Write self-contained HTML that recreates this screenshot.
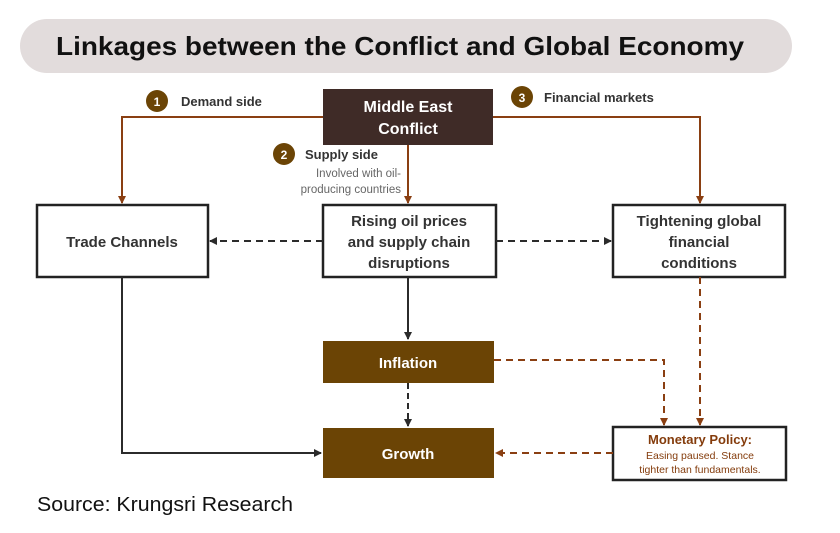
<!DOCTYPE html>
<html><head><style>
html,body{margin:0;padding:0;background:#fff;}
svg{display:block;font-family:"Liberation Sans",Arial,sans-serif;}
</style></head><body>
<svg width="840" height="533" viewBox="0 0 840 533" xmlns="http://www.w3.org/2000/svg">
<defs>
<marker id="ab" markerWidth="8" markerHeight="8" refX="7" refY="4" orient="auto" markerUnits="userSpaceOnUse"><path d="M0,0 L8,4 L0,8 z" fill="#8a3f12"/></marker>
<marker id="ak" markerWidth="8" markerHeight="8" refX="7" refY="4" orient="auto" markerUnits="userSpaceOnUse"><path d="M0,0 L8,4 L0,8 z" fill="#2b2b2b"/></marker>
</defs>
<rect x="20" y="19" width="772" height="54" rx="27" fill="#e2dcdc"/>
<text x="400" y="55" font-size="26" font-weight="bold" text-anchor="middle" textLength="688" lengthAdjust="spacingAndGlyphs" fill="#111">Linkages between the Conflict and Global Economy</text>

<g stroke="#8a3f12" stroke-width="2" fill="none">
<path d="M323,117 H122 V203" marker-end="url(#ab)"/>
<path d="M493,117 H700 V203" marker-end="url(#ab)"/>
<path d="M408,145 V203" marker-end="url(#ab)"/>
</g>
<rect x="323" y="89" width="170" height="56" fill="#3f2b27"/>
<text x="408" y="112" font-size="16" font-weight="bold" fill="#fff" text-anchor="middle">Middle East</text>
<text x="408" y="134" font-size="16" font-weight="bold" fill="#fff" text-anchor="middle">Conflict</text>

<circle cx="157" cy="101" r="11" fill="#6b4405"/><text x="157" y="106" font-size="12" font-weight="bold" fill="#fff" text-anchor="middle">1</text>
<text x="181" y="106" font-size="13" font-weight="bold" fill="#333">Demand side</text>
<circle cx="522" cy="97" r="11" fill="#6b4405"/><text x="522" y="102" font-size="12" font-weight="bold" fill="#fff" text-anchor="middle">3</text>
<text x="544" y="102" font-size="13" font-weight="bold" fill="#333">Financial markets</text>
<circle cx="284" cy="154" r="11" fill="#6b4405"/><text x="284" y="159" font-size="12" font-weight="bold" fill="#fff" text-anchor="middle">2</text>
<text x="305" y="159" font-size="13" font-weight="bold" fill="#333">Supply side</text>
<text x="401" y="177" font-size="11.5" fill="#666" text-anchor="end">Involved with oil-</text>
<text x="401" y="193" font-size="11.5" fill="#666" text-anchor="end">producing countries</text>

<g fill="#fff" stroke="#222" stroke-width="2.5">
<rect x="37" y="205" width="171" height="72"/>
<rect x="323" y="205" width="173" height="72"/>
<rect x="613" y="205" width="172" height="72"/>
<rect x="613" y="427" width="173" height="53"/>
</g>
<text x="122" y="247" font-size="15" font-weight="bold" fill="#333" text-anchor="middle">Trade Channels</text>
<text x="409" y="226" font-size="15" font-weight="bold" fill="#333" text-anchor="middle">Rising oil prices</text>
<text x="409" y="247" font-size="15" font-weight="bold" fill="#333" text-anchor="middle">and supply chain</text>
<text x="409" y="268" font-size="15" font-weight="bold" fill="#333" text-anchor="middle">disruptions</text>
<text x="699" y="226" font-size="15" font-weight="bold" fill="#333" text-anchor="middle">Tightening global</text>
<text x="699" y="247" font-size="15" font-weight="bold" fill="#333" text-anchor="middle">financial</text>
<text x="699" y="268" font-size="15" font-weight="bold" fill="#333" text-anchor="middle">conditions</text>
<text x="700" y="444" font-size="13" font-weight="bold" fill="#843c0c" text-anchor="middle">Monetary Policy:</text>
<text x="700" y="459" font-size="10.5" fill="#843c0c" text-anchor="middle">Easing paused. Stance</text>
<text x="700" y="473" font-size="10.5" fill="#843c0c" text-anchor="middle">tighter than fundamentals.</text>

<rect x="323" y="341" width="171" height="42" fill="#6b4405"/>
<text x="408" y="368" font-size="15" font-weight="bold" fill="#fff" text-anchor="middle">Inflation</text>
<rect x="323" y="428" width="171" height="50" fill="#6b4405"/>
<text x="408" y="459" font-size="15" font-weight="bold" fill="#fff" text-anchor="middle">Growth</text>

<g stroke="#2b2b2b" stroke-width="2" fill="none">
<path d="M323,241 H210" stroke-dasharray="7,5" marker-end="url(#ak)"/>
<path d="M496,241 H611" stroke-dasharray="7,5" marker-end="url(#ak)"/>
<path d="M408,383 V426" stroke-dasharray="6,4" marker-end="url(#ak)"/>
<path d="M408,277 V339" marker-end="url(#ak)"/>
<path d="M122,277 V453 H321" marker-end="url(#ak)"/>
</g>
<g stroke="#8a3f12" stroke-width="2" fill="none" stroke-dasharray="7,5">
<path d="M494,360 H664 V425" marker-end="url(#ab)"/>
<path d="M700,277 V425" marker-end="url(#ab)"/>
<path d="M613,453 H496" marker-end="url(#ab)"/>
</g>

<text x="37" y="511" font-size="20" fill="#111" textLength="256" lengthAdjust="spacingAndGlyphs">Source: Krungsri Research</text>
</svg>
</body></html>
